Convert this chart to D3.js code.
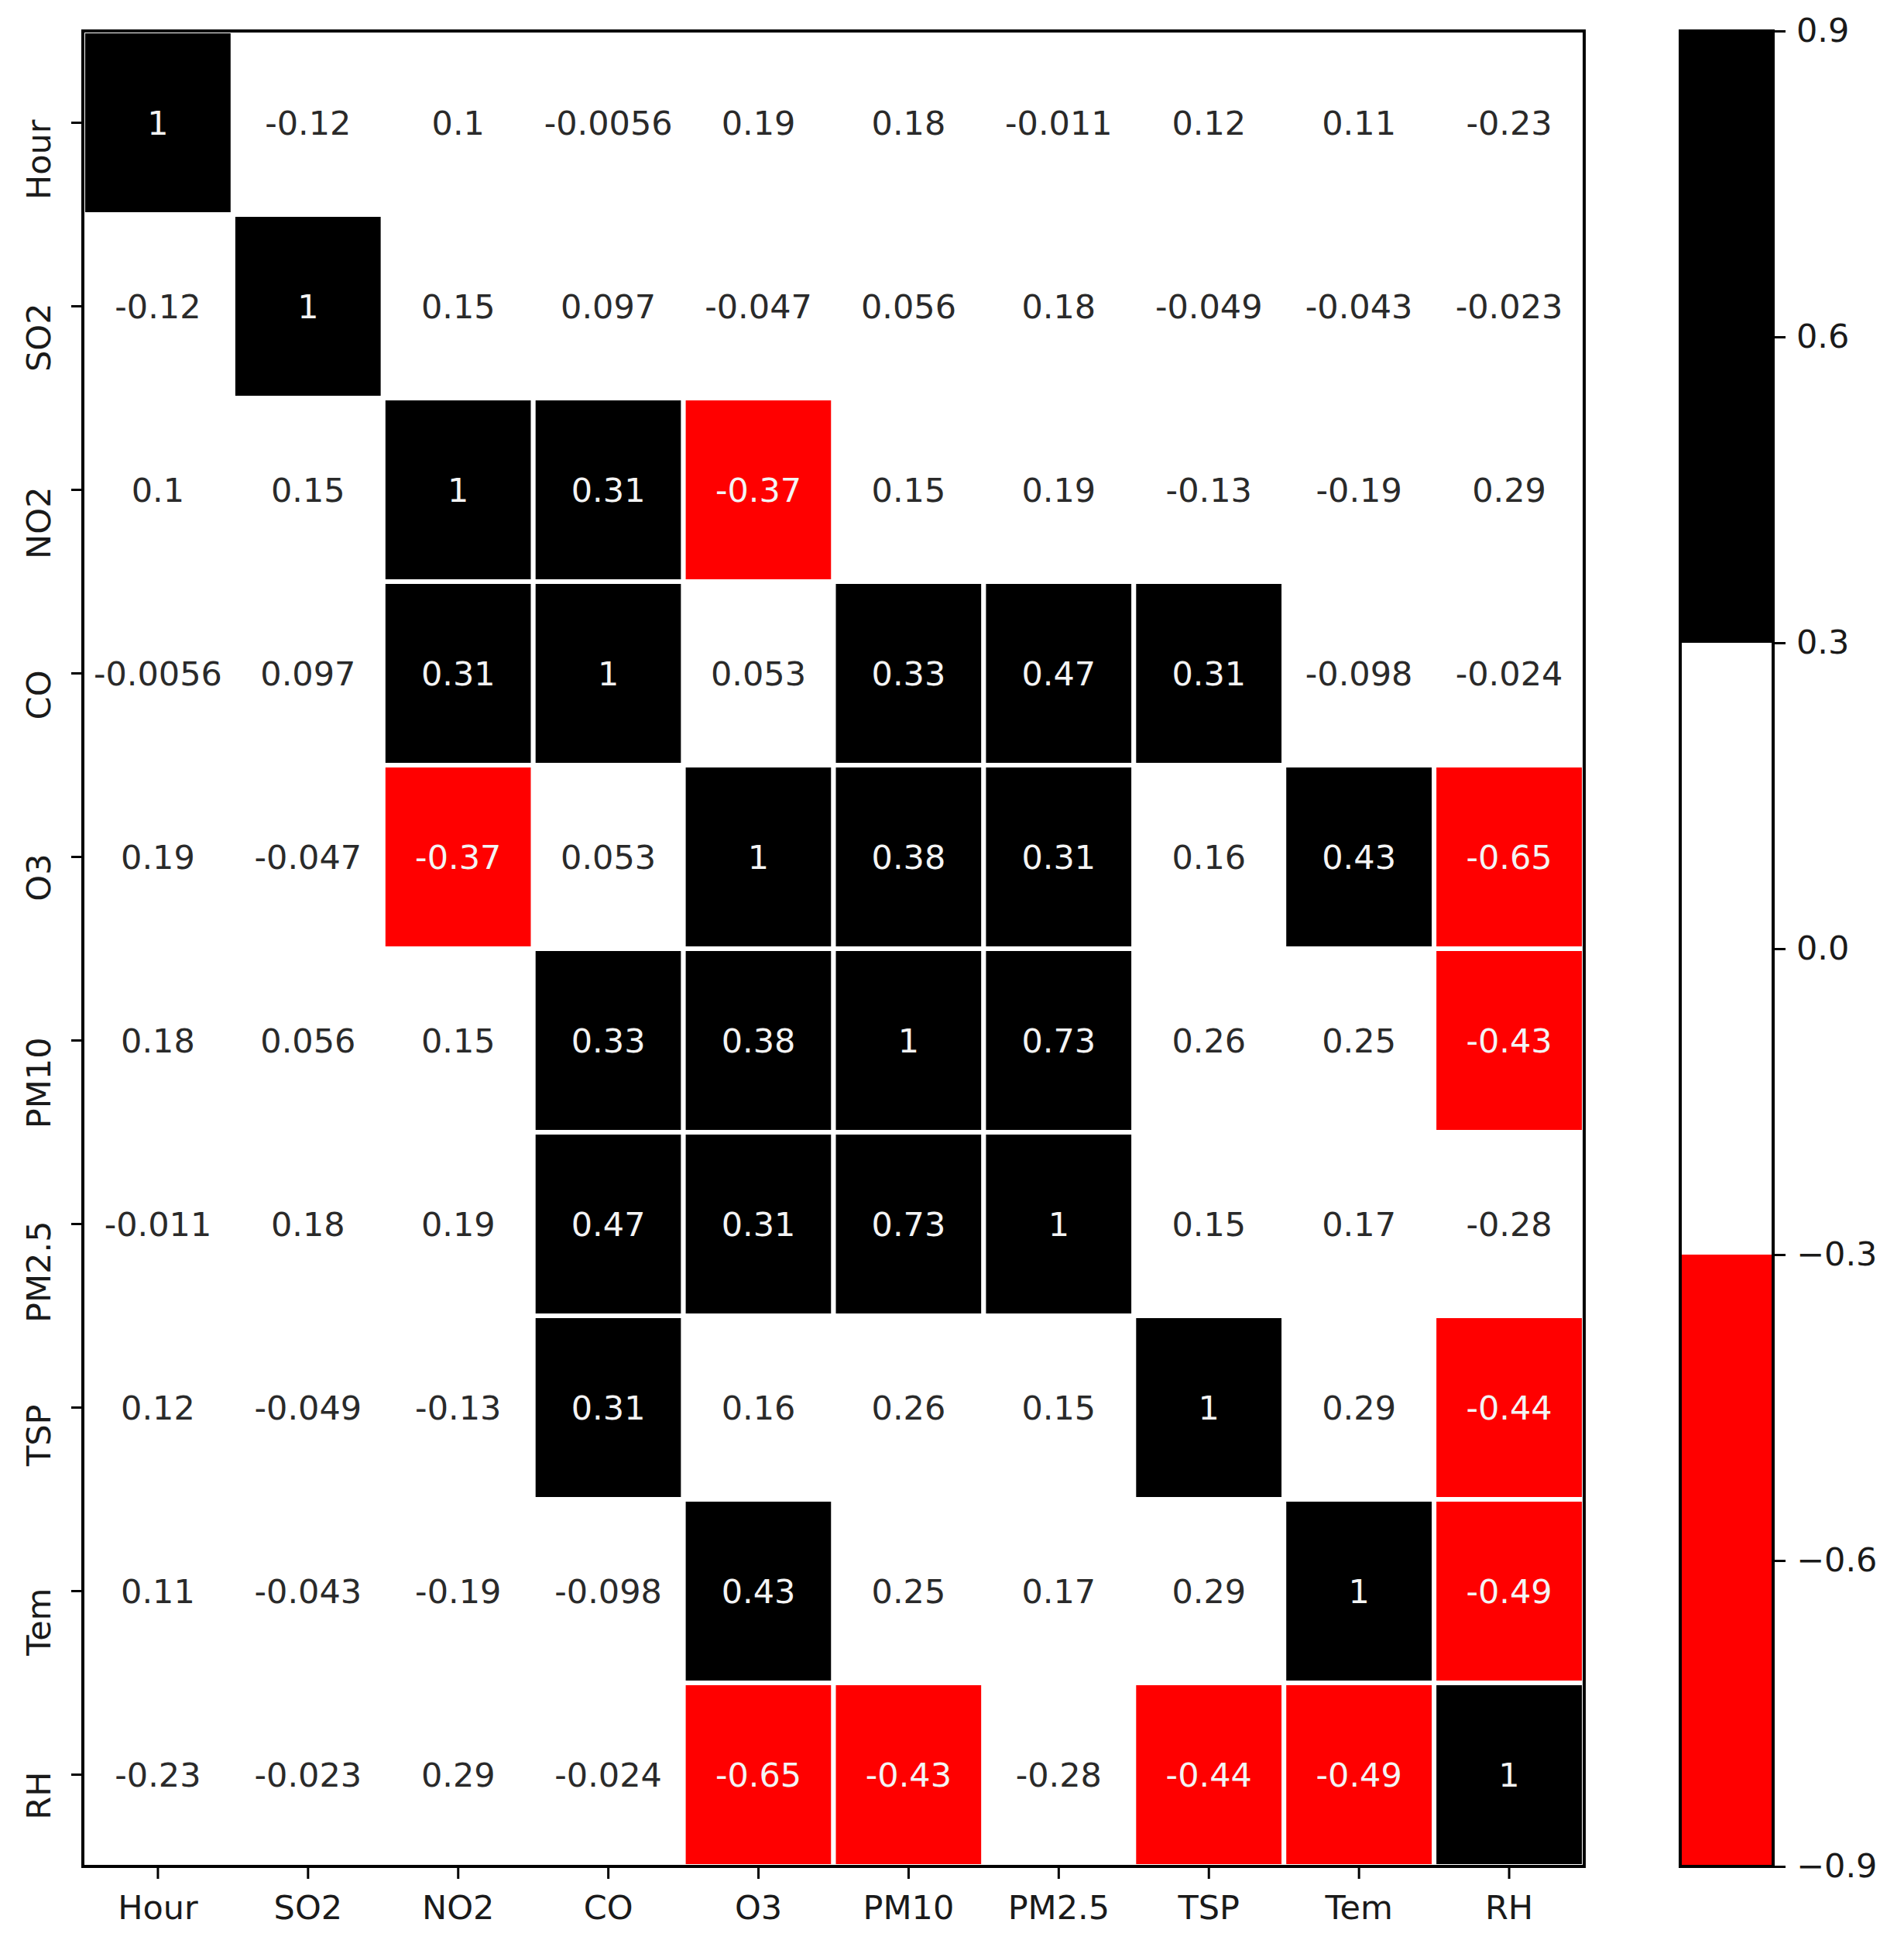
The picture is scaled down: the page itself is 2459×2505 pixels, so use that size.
<!DOCTYPE html>
<html>
<head>
<meta charset="utf-8">
<script src="https://cdn.jsdelivr.net/npm/d3@7"></script>
<style>
  html, body { margin: 0; padding: 0; background: #fff; }
  svg { display: block; }
  text { font-family: "DejaVu Sans", sans-serif; }
</style>
</head>
<body>
<svg id="chart" width="2459" height="2505"></svg>
<script>
// ---- data ----
const variables = ["Hour", "SO2", "NO2", "CO", "O3", "PM10", "PM2.5", "TSP", "Tem", "RH"];
const rowHour = [1, -0.12, 0.1, -0.0056, 0.19, 0.18, -0.011, 0.12, 0.11, -0.23];
const rowSO2  = [-0.12, 1, 0.15, 0.097, -0.047, 0.056, 0.18, -0.049, -0.043, -0.023];
const rowNO2  = [0.1, 0.15, 1, 0.31, -0.37, 0.15, 0.19, -0.13, -0.19, 0.29];
const rowCO   = [-0.0056, 0.097, 0.31, 1, 0.053, 0.33, 0.47, 0.31, -0.098, -0.024];
const rowO3   = [0.19, -0.047, -0.37, 0.053, 1, 0.38, 0.31, 0.16, 0.43, -0.65];
const rowPM10 = [0.18, 0.056, 0.15, 0.33, 0.38, 1, 0.73, 0.26, 0.25, -0.43];
const rowPM25 = [-0.011, 0.18, 0.19, 0.47, 0.31, 0.73, 1, 0.15, 0.17, -0.28];
const rowTSP  = [0.12, -0.049, -0.13, 0.31, 0.16, 0.26, 0.15, 1, 0.29, -0.44];
const rowTem  = [0.11, -0.043, -0.19, -0.098, 0.43, 0.25, 0.17, 0.29, 1, -0.49];
const rowRH   = [-0.23, -0.023, 0.29, -0.024, -0.65, -0.43, -0.28, -0.44, -0.49, 1];
const matrix = [rowHour, rowSO2, rowNO2, rowCO, rowO3, rowPM10, rowPM25, rowTSP, rowTem, rowRH];

const colorThresholds = [-0.3, 0.3];
const colorRange = ["#ff0000", "#ffffff", "#000000"];
const colorbarDomain = [-0.9, 0.9];
const colorbarTicks = [-0.9, -0.6, -0.3, 0.0, 0.3, 0.6, 0.9];

// ---- layout ----
const plotL = 107, plotR = 2046, plotT = 40, plotB = 2410;
const cbL = 2170, cbR = 2290;
const fontSize = 43;

const svg = d3.select("#chart");
svg.append("rect").attr("width", 2459).attr("height", 2505).attr("fill", "#fff");

const x = d3.scaleBand().domain(variables).range([plotL, plotR]);
const y = d3.scaleBand().domain(variables).range([plotT, plotB]);
const color = d3.scaleThreshold().domain(colorThresholds).range(colorRange);

const loc = d3.formatLocale({decimal: ".", thousands: ",", grouping: [3], currency: ["", ""], minus: "-"});
const fmt = loc.format(".2~g");

const cells = [];
matrix.forEach((row, i) => row.forEach((v, j) => cells.push({r: variables[i], c: variables[j], v})));

const g = svg.append("g");
g.selectAll("rect.cell").data(cells).join("rect")
  .attr("class", "cell")
  .attr("x", d => x(d.c))
  .attr("y", d => y(d.r))
  .attr("width", x.bandwidth())
  .attr("height", y.bandwidth())
  .attr("fill", d => color(d.v))
  .attr("stroke", "#ffffff")
  .attr("stroke-width", 6);

g.selectAll("text.ann").data(cells).join("text")
  .attr("class", "ann")
  .attr("x", d => x(d.c) + x.bandwidth() / 2)
  .attr("y", d => y(d.r) + y.bandwidth() / 2 + 15.5)
  .attr("text-anchor", "middle")
  .attr("font-size", fontSize)
  .attr("fill", d => color(d.v) === "#ffffff" ? "#2a2a2a" : "#f4f4f4")
  .text(d => fmt(d.v));

// frame
svg.append("rect")
  .attr("x", plotL).attr("y", plotT)
  .attr("width", plotR - plotL).attr("height", plotB - plotT)
  .attr("fill", "none").attr("stroke", "#000").attr("stroke-width", 4);

// x axis
const xAxis = svg.append("g")
  .attr("transform", `translate(0,${plotB})`)
  .call(d3.axisBottom(x).tickSize(16).tickPadding(21));
xAxis.select(".domain").remove();
xAxis.selectAll(".tick line").attr("stroke", "#000").attr("stroke-width", 3);
xAxis.selectAll(".tick text").attr("font-size", fontSize).attr("fill", "#1a1a1a")
  .attr("font-family", "DejaVu Sans");

// y axis (labels rotated, their upper end aligned with the tick)
const yAxis = svg.append("g")
  .attr("transform", `translate(${plotL},0)`)
  .call(d3.axisLeft(y).tickSize(15));
yAxis.select(".domain").remove();
yAxis.selectAll(".tick line").attr("stroke", "#000").attr("stroke-width", 3);
yAxis.selectAll(".tick text")
  .attr("x", null).attr("dy", null)
  .attr("transform", "translate(-42,-4) rotate(-90)")
  .attr("text-anchor", "end")
  .attr("font-size", fontSize).attr("fill", "#1a1a1a")
  .attr("font-family", "DejaVu Sans");

// colorbar
const cy = d3.scaleLinear().domain(colorbarDomain).range([plotB, plotT]);
const bounds = [colorbarDomain[0], ...colorThresholds, colorbarDomain[1]];
const segs = d3.pairs(bounds).map(([a, b]) => ({a, b}));
svg.append("g").selectAll("rect").data(segs).join("rect")
  .attr("x", cbL).attr("width", cbR - cbL)
  .attr("y", d => cy(d.b)).attr("height", d => cy(d.a) - cy(d.b))
  .attr("fill", d => color((d.a + d.b) / 2));
svg.append("rect")
  .attr("x", cbL).attr("y", plotT).attr("width", cbR - cbL).attr("height", plotB - plotT)
  .attr("fill", "none").attr("stroke", "#000").attr("stroke-width", 4);

const cAxis = svg.append("g")
  .attr("transform", `translate(${cbR},0)`)
  .call(d3.axisRight(cy).tickValues(colorbarTicks).tickFormat(d3.format(".1f")).tickSize(16).tickPadding(14));
cAxis.select(".domain").remove();
cAxis.selectAll(".tick line").attr("stroke", "#000").attr("stroke-width", 3);
cAxis.selectAll(".tick text").attr("font-size", fontSize).attr("fill", "#1a1a1a")
  .attr("font-family", "DejaVu Sans");
</script>
</body>
</html>
